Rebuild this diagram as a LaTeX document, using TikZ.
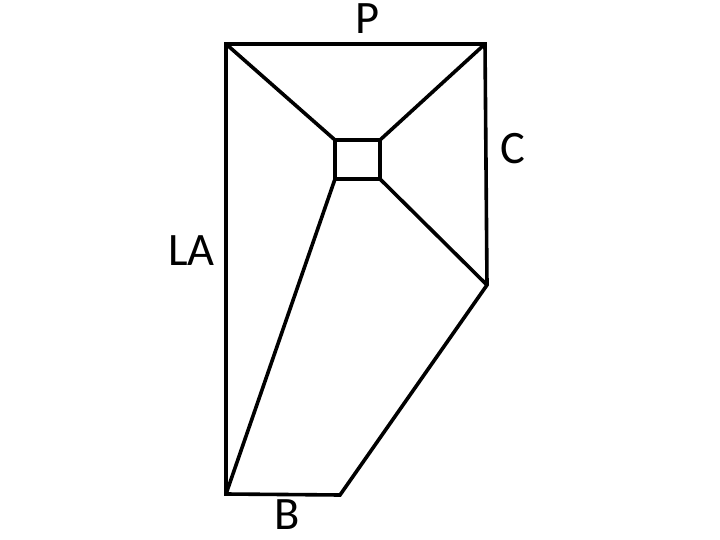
\documentclass[tikz,border=0pt]{standalone}
\usepackage{fontspec}
\setmainfont{Carlito}
\begin{document}
\begin{tikzpicture}[x=1pt,y=-1pt,
  edge/.style={line width=3.6pt,line join=miter,line cap=butt},
  lbl/.style={font=\fontsize{46.5}{46.5}\selectfont,inner sep=0pt}]
\useasboundingbox (0,0) rectangle (720,540);
\coordinate (tl) at (226,44);
\coordinate (tr) at (485,44);
\coordinate (rm) at (487,285);
\coordinate (br) at (340,495);
\coordinate (bl) at (226,494);
\coordinate (s1) at (335,140);
\coordinate (s2) at (380,140);
\coordinate (s3) at (380,179);
\coordinate (s4) at (335,179);
\draw[edge] (tl) -- (tr) -- (rm) -- (br) -- (bl) -- cycle;
\draw[edge] (s1) -- (s2) -- (s3) -- (s4) -- cycle;
\draw[edge] (tl) -- (s1);
\draw[edge] (tr) -- (s2);
\draw[edge] (s3) -- (rm);
\draw[edge] (s4) -- (bl);
\node[lbl] (P) at (368,19) {P};
\node[lbl] (C) at (513,149) {C};
\node[lbl] (LA) at (191.5,250.5) {LA};
\node[lbl] (B) at (287,515) {B};
\end{tikzpicture}
\end{document}
